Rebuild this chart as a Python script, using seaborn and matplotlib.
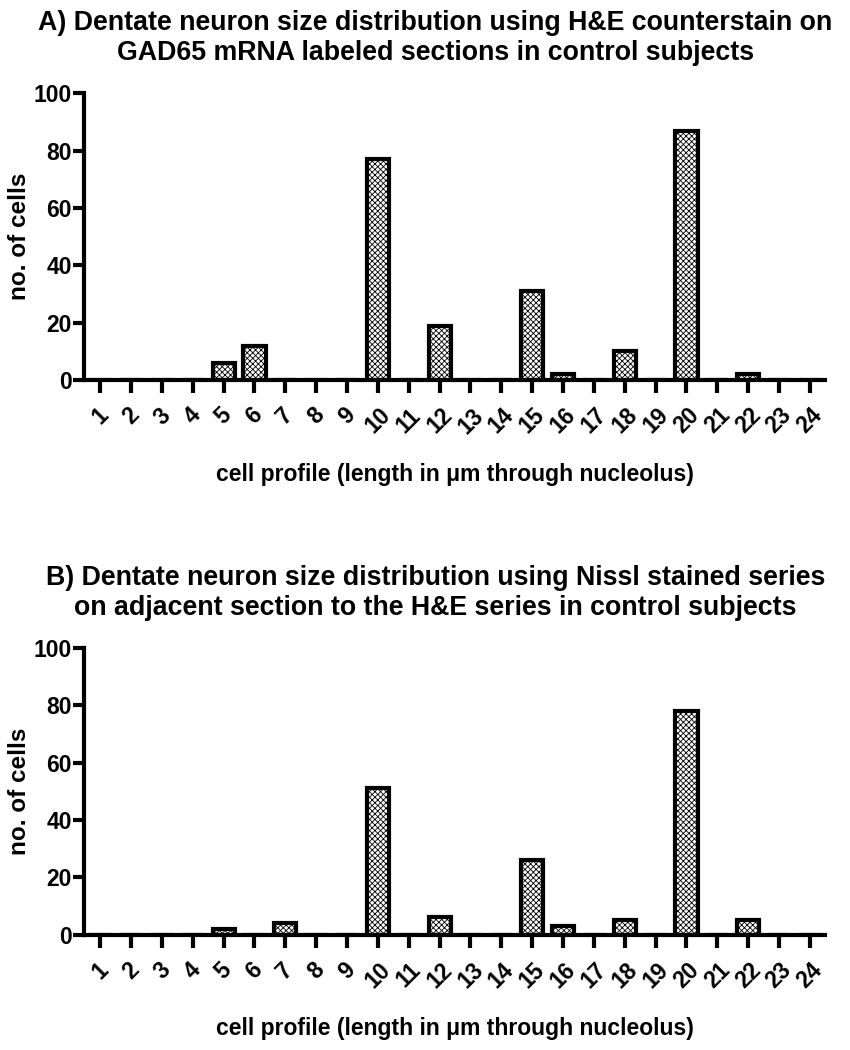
import matplotlib
matplotlib.use("Agg")
import matplotlib.pyplot as plt
import seaborn as sns
import pandas as pd

categories = [str(i) for i in range(1, 25)]
values_a = [0, 0, 0, 0, 6, 12, 0, 0, 0, 77, 0, 19, 0, 0, 31, 2, 0, 10, 0, 87, 0, 2, 0, 0]
values_b = [0, 0, 0, 0, 2, 0, 4, 0, 0, 51, 0, 6, 0, 0, 26, 3, 0, 5, 0, 78, 0, 5, 0, 0]
title_a = "A) Dentate neuron size distribution using H&E counterstain on\nGAD65 mRNA labeled sections in control subjects"
title_b = "B) Dentate neuron size distribution using Nissl stained series\non adjacent section to the H&E series in control subjects"
xlabel = "cell profile (length in \u03bcm through nucleolus)"
ylabel = "no. of cells"
yticks = [0, 20, 40, 60, 80, 100]

sns.set_style("white")
plt.rcParams['font.family'] = ['Liberation Sans', 'DejaVu Sans']
plt.rcParams['font.weight'] = 'bold'
plt.rcParams['hatch.linewidth'] = 0.6
plt.rcParams['hatch.color'] = 'black'
for k in ['text.color', 'axes.labelcolor', 'xtick.color', 'ytick.color']:
    plt.rcParams[k] = 'black'

fig = plt.figure(figsize=(8.5, 10.5), dpi=100)
ax_a = fig.add_axes([0.099, 0.638, 0.872, 0.273])
ax_b = fig.add_axes([0.099, 0.110, 0.872, 0.273])

FS = 16.5
for ax, vals, title in [(ax_a, values_a, title_a), (ax_b, values_b, title_b)]:
    df = pd.DataFrame({"size": categories, "count": vals})
    sns.barplot(data=df, x="size", y="count", ax=ax, color="white",
                edgecolor="black", linewidth=3, width=0.72, order=categories)
    for p in ax.patches:
        p.set_hatch("xxxxxx")
        p.set_facecolor("white")
        p.set_edgecolor("black")
    ax.set_ylim(0, 100)
    ax.set_xlim(-0.52, 23.5)
    ax.set_yticks(yticks)
    ax.set_yticklabels([str(t) for t in yticks], fontsize=FS, fontweight='bold')
    ax.set_xticks(range(len(categories)))
    ax.set_xticklabels(categories, rotation=45, ha='center', fontsize=FS, fontweight='bold')
    ax.tick_params(axis='x', direction='out', length=9, width=3, pad=8, bottom=True)
    ax.tick_params(axis='y', direction='out', length=8, width=3, pad=1, left=True)
    for side in ['top', 'right']:
        ax.spines[side].set_visible(False)
    for side in ['left', 'bottom']:
        ax.spines[side].set_linewidth(3)
        ax.spines[side].set_color('black')
    ax.set_xlabel(xlabel, fontsize=FS, fontweight='bold', labelpad=18)
    ax.set_ylabel(ylabel, fontsize=17.5, fontweight='bold', labelpad=2)
    ax.set_title(title, fontsize=19.3, fontweight='bold', pad=24, loc='center', x=0.474)

fig.savefig("out.png", dpi=100)
